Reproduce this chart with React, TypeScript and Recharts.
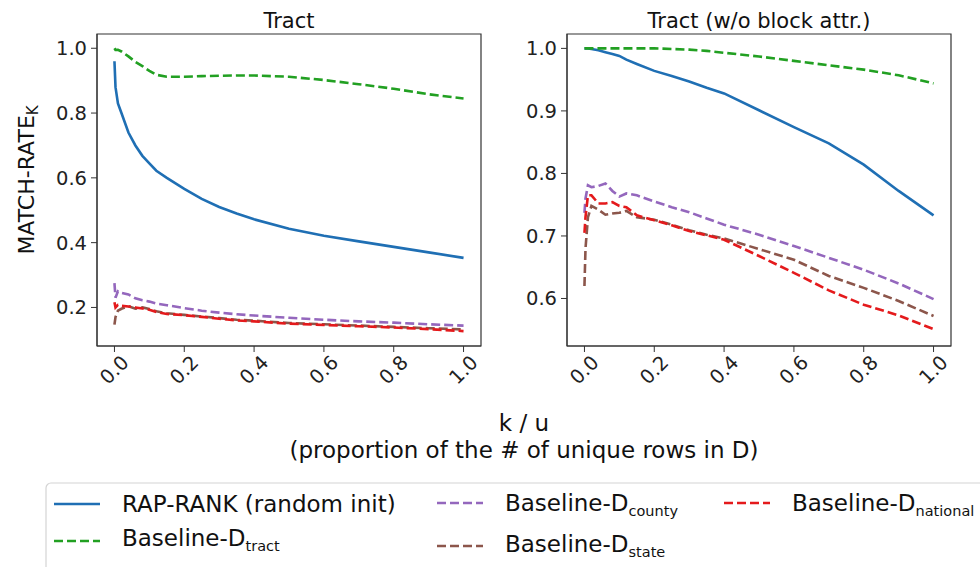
import React from "react";
import { LineChart, Line, XAxis, YAxis, ReferenceArea } from "recharts";

// x positions (k / u) shared by every series
const xs = [0, 0.003, 0.01, 0.02, 0.04, 0.06, 0.08, 0.1, 0.12, 0.15, 0.2, 0.25, 0.3, 0.35, 0.4, 0.5, 0.6, 0.7, 0.8, 0.9, 1.0];

// left panel: Tract
const tractRap = [0.96, 0.88, 0.83, 0.8, 0.74, 0.7, 0.668, 0.645, 0.622, 0.6, 0.566, 0.535, 0.51, 0.49, 0.472, 0.443, 0.421, 0.404, 0.387, 0.37, 0.353];
const tractTract = [1.0, 0.995, 0.995, 0.99, 0.975, 0.958, 0.945, 0.93, 0.918, 0.912, 0.912, 0.914, 0.915, 0.916, 0.916, 0.912, 0.902, 0.889, 0.875, 0.858, 0.845];
const tractCounty = [0.275, 0.23, 0.25, 0.245, 0.24, 0.228, 0.222, 0.218, 0.212, 0.207, 0.198, 0.19, 0.184, 0.179, 0.175, 0.168, 0.162, 0.157, 0.153, 0.148, 0.144];
const tractState = [0.147, 0.17, 0.19, 0.196, 0.204, 0.196, 0.2, 0.195, 0.188, 0.182, 0.177, 0.172, 0.167, 0.162, 0.159, 0.152, 0.148, 0.144, 0.14, 0.136, 0.132];
const tractNational = [0.216, 0.2, 0.208, 0.205, 0.203, 0.2, 0.197, 0.193, 0.186, 0.18, 0.176, 0.171, 0.165, 0.16, 0.157, 0.15, 0.146, 0.142, 0.138, 0.133, 0.127];

// right panel: Tract (w/o block attr.)
const noBlockRap = [1.0, 1.0, 1.0, 0.999, 0.997, 0.994, 0.991, 0.988, 0.982, 0.975, 0.964, 0.956, 0.947, 0.937, 0.928, 0.901, 0.874, 0.848, 0.814, 0.772, 0.733];
const noBlockTract = [1.0, 1.0, 1.0, 1.0, 1.0, 1.0, 1.0, 1.0, 1.0, 1.0, 1.0, 0.999, 0.998, 0.996, 0.993, 0.987, 0.98, 0.973, 0.966, 0.957, 0.944];
const noBlockCounty = [0.737, 0.76, 0.781, 0.778, 0.78, 0.784, 0.772, 0.763, 0.768, 0.765, 0.755, 0.746, 0.738, 0.728, 0.718, 0.702, 0.684, 0.665, 0.646, 0.624, 0.599];
const noBlockState = [0.62, 0.68, 0.73, 0.748, 0.742, 0.734, 0.736, 0.737, 0.74, 0.73, 0.726, 0.718, 0.709, 0.702, 0.696, 0.679, 0.662, 0.636, 0.617, 0.596, 0.572];
const noBlockNational = [0.705, 0.73, 0.765, 0.765, 0.752, 0.752, 0.754, 0.748, 0.746, 0.733, 0.725, 0.717, 0.708, 0.701, 0.694, 0.668, 0.641, 0.613, 0.59, 0.573, 0.551];

const xTicks = [0, 0.2, 0.4, 0.6, 0.8, 1.0];
const leftYTicks = [0.2, 0.4, 0.6, 0.8, 1.0];
const rightYTicks = [0.6, 0.7, 0.8, 0.9, 1.0];

const COLORS = {
  rap: "#1f6fb4",
  tract: "#22a022",
  county: "#9467bd",
  state: "#8c564b",
  national: "#e41a1c",
};

const FONT = "'DejaVu Sans', sans-serif";

function rows(rap: number[], tract: number[], county: number[], state: number[], national: number[]) {
  return xs.map((x, i) => ({ x, rap: rap[i], tract: tract[i], county: county[i], state: state[i], national: national[i] }));
}

const leftData = rows(tractRap, tractTract, tractCounty, tractState, tractNational);
const rightData = rows(noBlockRap, noBlockTract, noBlockCounty, noBlockState, noBlockNational);

function RotTick(props: any) {
  const { x, y, payload } = props;
  return (
    <g transform={`translate(${x},${y + 18})`}>
      <text transform="rotate(-45)" textAnchor="middle" dominantBaseline="central" fontSize={19.5} fill="#222">
        {Number(payload.value).toFixed(1)}
      </text>
    </g>
  );
}

function Panel({ data, yDomain, yTicks }: { data: any[]; yDomain: [number, number]; yTicks: number[] }) {
  const dash = "9 4";
  return (
    <LineChart width={490} height={400} data={data} margin={{ top: 34, right: 9, bottom: 0, left: 0 }}>
      <XAxis
        type="number"
        dataKey="x"
        domain={[-0.05, 1.05]}
        ticks={xTicks}
        height={54}
        tickSize={6}
        tickMargin={0}
        tick={<RotTick />}
        stroke="#333"
        allowDataOverflow
      />
      <YAxis
        type="number"
        domain={yDomain}
        ticks={yTicks}
        width={97}
        tickSize={6}
        tickMargin={4}
        tickFormatter={(v) => Number(v).toFixed(1)}
        tick={{ fontSize: 19.5, fill: "#222" }}
        stroke="#333"
        allowDataOverflow
      />
      <ReferenceArea x1={-0.05} x2={1.05} y1={yDomain[0]} y2={yDomain[1]} fill="none" stroke="#333" strokeWidth={1.2} ifOverflow="visible" />
      <Line type="linear" dataKey="rap" stroke={COLORS.rap} strokeWidth={2.6} dot={false} isAnimationActive={false} />
      <Line type="linear" dataKey="tract" stroke={COLORS.tract} strokeWidth={2.6} strokeDasharray={dash} dot={false} isAnimationActive={false} />
      <Line type="linear" dataKey="county" stroke={COLORS.county} strokeWidth={2.6} strokeDasharray={dash} dot={false} isAnimationActive={false} />
      <Line type="linear" dataKey="state" stroke={COLORS.state} strokeWidth={2.6} strokeDasharray={dash} dot={false} isAnimationActive={false} />
      <Line type="linear" dataKey="national" stroke={COLORS.national} strokeWidth={2.6} strokeDasharray={dash} dot={false} isAnimationActive={false} />
    </LineChart>
  );
}

function LegendItem({ x, y, color, dashed, label, sub, dy = 0 }: { x: number; y: number; color: string; dashed: boolean; label: string; sub?: string; dy?: number }) {
  return (
    <g>
      <line x1={x} x2={x + 46} y1={y - 8 - dy} y2={y - 8 - dy} stroke={color} strokeWidth={2.6} strokeDasharray={dashed ? "9 4" : undefined} />
      <text x={x + 68} y={y} fontSize={23} fill="#111">
        {label}
        {sub && (
          <tspan fontSize={14.5} dy={5}>
            {sub}
          </tspan>
        )}
      </text>
    </g>
  );
}

export default function App() {
  return (
    <div style={{ position: "absolute", left: 0, top: 0, width: 980, height: 567, background: "#fff", fontFamily: FONT, overflow: "hidden" }}>
      <div style={{ position: "absolute", left: 0, top: 0 }}>
        <Panel data={leftData} yDomain={[0.081, 1.044]} yTicks={leftYTicks} />
      </div>
      <div style={{ position: "absolute", left: 470, top: 0 }}>
        <Panel data={rightData} yDomain={[0.524, 1.023]} yTicks={rightYTicks} />
      </div>
      <svg width={980} height={567} style={{ position: "absolute", left: 0, top: 0, pointerEvents: "none" }}>
        <text x={289} y={28} textAnchor="middle" fontSize={21} fill="#111">Tract</text>
        <text x={759} y={28} textAnchor="middle" fontSize={21} fill="#111">Tract (w/o block attr.)</text>
        <text transform="translate(34,180) rotate(-90)" textAnchor="middle" fontSize={22} fill="#111">
          MATCH-RATE
          <tspan fontSize={15} dy={4}>K</tspan>
        </text>
        <text x={524} y={431} textAnchor="middle" fontSize={23} fill="#111">k / u</text>
        <text x={524} y={458} textAnchor="middle" fontSize={23} fill="#111">(proportion of the # of unique rows in D)</text>
        <rect x={46} y={483} width={960} height={110} rx={5} fill="#fff" stroke="#d4d4d4" strokeWidth={1.2} />
        <LegendItem x={54} y={512} color={COLORS.rap} dashed={false} label="RAP-RANK (random init)" />
        <LegendItem x={54} y={546} color={COLORS.tract} dashed label="Baseline-D" sub="tract" dy={-3} />
        <LegendItem x={437} y={511} color={COLORS.county} dashed label="Baseline-D" sub="county" />
        <LegendItem x={437} y={552} color={COLORS.state} dashed label="Baseline-D" sub="state" dy={-2} />
        <LegendItem x={724} y={511} color={COLORS.national} dashed label="Baseline-D" sub="national" />
      </svg>
    </div>
  );
}
